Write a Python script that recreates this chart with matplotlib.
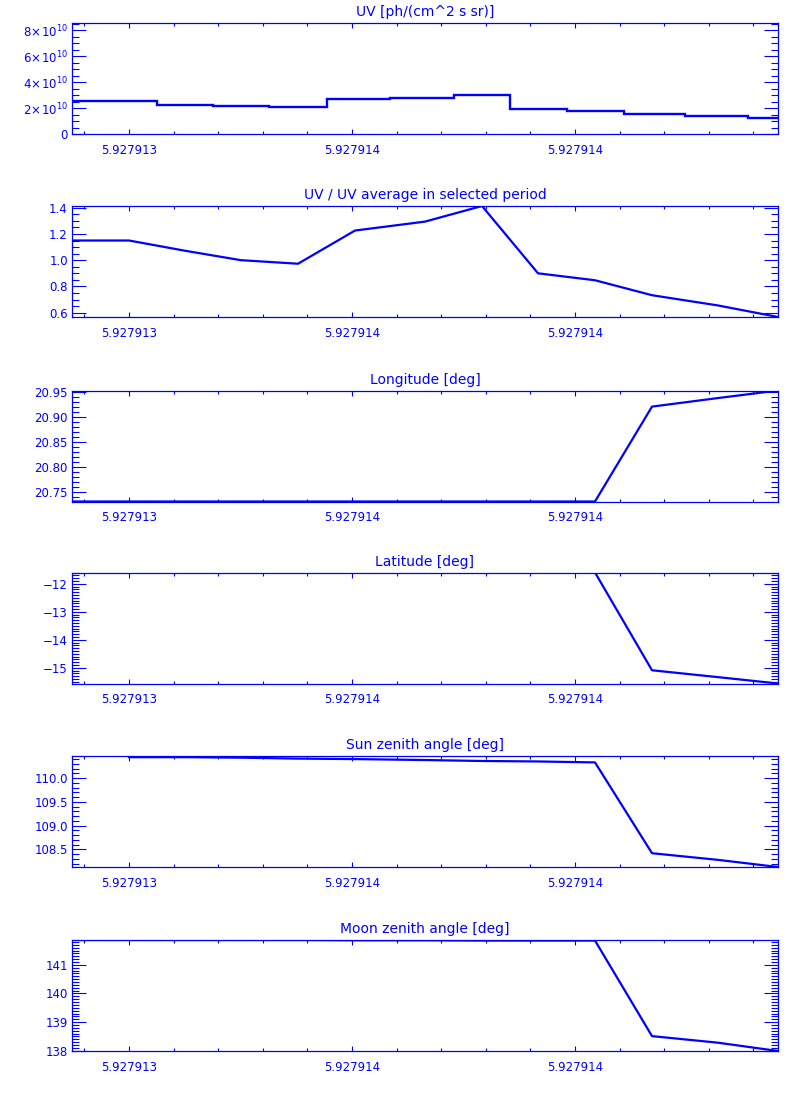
import numpy as np
import matplotlib
matplotlib.use("Agg")
import matplotlib.pyplot as plt
from matplotlib.ticker import FixedLocator, MultipleLocator, FuncFormatter

# ---------------- data ----------------
# sample times (axis units: one major tick = 1)
t = [-0.2556, 0.0, 0.2511, 0.5022, 0.7578, 1.0135, 1.3274, 1.5830,
     1.8341, 2.0897, 2.3453, 2.6413, 2.9103]
x_ticks = [0.0, 1.0, 2.0]
x_tick_labels = ["5.927913", "5.927914", "5.927914"]
x_range = (-0.2556, 2.9103)

uv = [2.54e10, 2.54e10, 2.28e10, 2.18e10, 2.10e10, 2.69e10, 2.82e10, 3.02e10,
      1.97e10, 1.82e10, 1.58e10, 1.43e10, 1.23e10]
uv_ratio = [1.15, 1.15, 1.072, 1.00, 0.973, 1.226, 1.294, 1.413,
            0.90, 0.847, 0.733, 0.655, 0.567]
longitude = [20.7315, 20.7315, 20.7315, 20.7315, 20.7315, 20.7315, 20.7315,
             20.7315, 20.7315, 20.7315, 20.920, 20.937, 20.952]
latitude = [-11.596, -11.596, -11.596, -11.596, -11.596, -11.596, -11.596,
            -11.596, -11.596, -11.596, -15.085, -15.33, -15.557]
sun_zenith = [np.nan, 110.44, 110.44, 110.43, 110.41, 110.40, 110.38, 110.36,
              110.35, 110.33, 108.42, 108.28, 108.13]
moon_zenith = [141.87, 141.87, 141.87, 141.87, 141.87, 141.86, 141.86, 141.85,
               141.85, 141.85, 138.51, 138.28, 137.99]

titles = ["UV [ph/(cm^2 s sr)]", "UV / UV average in selected period",
          "Longitude [deg]", "Latitude [deg]", "Sun zenith angle [deg]",
          "Moon zenith angle [deg]"]
ylims = [(0, 8.54e10), (0.567, 1.413), (20.7315, 20.952),
         (-15.557, -11.596), (108.13, 110.465), (137.99, 141.87)]
y_major = [2e10, 0.2, 0.05, 1.0, 0.5, 1.0]
y_minor = [0.5e10, 0.05, 0.01, 0.1, 0.1, 0.1]


def uv_fmt(v, pos):
    if abs(v) < 1:
        return "0"
    m = v / 1e10
    return r"$%d\!\times\!10^{10}$" % round(m)


y_formats = [FuncFormatter(uv_fmt),
             FuncFormatter(lambda v, p: "%.1f" % v),
             FuncFormatter(lambda v, p: "%.2f" % v),
             FuncFormatter(lambda v, p: "\u2212%d" % round(-v) if v < 0 else "%d" % round(v)),
             FuncFormatter(lambda v, p: "%.1f" % v),
             FuncFormatter(lambda v, p: "%d" % round(v))]
series = [uv, uv_ratio, longitude, latitude, sun_zenith, moon_zenith]

# ---------------- plot ----------------
BLUE = "#0000ff"
plt.rcParams["font.family"] = ["DejaVu Sans"]
W, H = 800, 1100
fig = plt.figure(figsize=(W / 100, H / 100), dpi=100)

left, right = 72, 778
tops = [23.3, 206.0, 390.5, 572.5, 756.0, 940.0]
height = 111.0

for i in range(6):
    top = tops[i]
    ax = fig.add_axes([left / W, 1 - (top + height) / H, (right - left) / W, height / H])
    if i == 0:
        ax.plot(t, series[i], color=BLUE, lw=1.7, drawstyle="steps-mid",
                solid_joinstyle="miter")
    else:
        ax.plot(t, series[i], color=BLUE, lw=1.6)
    ax.set_xlim(*x_range)
    ax.set_ylim(*ylims[i])
    ax.xaxis.set_major_locator(FixedLocator(x_ticks))
    ax.set_xticklabels(x_tick_labels)
    ax.xaxis.set_minor_locator(MultipleLocator(0.2))
    ax.yaxis.set_major_locator(MultipleLocator(y_major[i]))
    ax.yaxis.set_minor_locator(MultipleLocator(y_minor[i]))
    ax.yaxis.set_major_formatter(y_formats[i])
    for s in ax.spines.values():
        s.set_color(BLUE)
        s.set_linewidth(0.9)
    ax.tick_params(axis="both", which="both", direction="in", colors=BLUE,
                   top=True, right=True, width=0.8, labelsize=8.5)
    ax.tick_params(axis="y", which="major", length=10.3, pad=3)
    ax.tick_params(axis="y", which="minor", length=5.2)
    ax.tick_params(axis="x", which="major", length=3.6, pad=7)
    ax.tick_params(axis="x", which="minor", length=2.2)
    ax.set_title(titles[i], color=BLUE, fontsize=10, pad=5)

fig.savefig("out.png", dpi=100, facecolor="white")
